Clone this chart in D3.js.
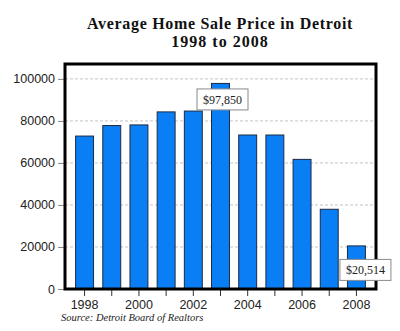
<!DOCTYPE html>
<html>
<head>
<meta charset="utf-8">
<script src="https://cdn.jsdelivr.net/npm/d3@7"></script>
<style>
  html, body { margin: 0; padding: 0; background: #fff; }
  svg { display: block; }
</style>
</head>
<body>
<svg id="chart" width="400" height="331"></svg>
<script>
// Average home sale price in Detroit, 1998-2008
const years = [1998, 1999, 2000, 2001, 2002, 2003, 2004, 2005, 2006, 2007, 2008];
const prices = [72800, 77800, 78100, 84300, 84700, 97850, 73300, 73300, 61700, 37950, 20514];
const yTicks = [0, 20000, 40000, 60000, 80000, 100000];
const xLabelYears = [1998, 2000, 2002, 2004, 2006, 2008];
const calloutYears = [2003, 2008];
const titleLines = ["Average Home Sale Price in Detroit", "1998 to 2008"];
const sourceNote = "Source: Detroit Board of Realtors";

const svg = d3.select("#chart");
const frame = { left: 65, right: 376, top: 64, bottom: 289 };
const yMax = 107100;

const x = d3.scaleBand()
  .domain(years)
  .range([frame.left, frame.right])
  .paddingInner(0.34)
  .paddingOuter(0.39);

const y = d3.scaleLinear()
  .domain([0, yMax])
  .range([frame.bottom, frame.top]);

// Title, two centred lines
svg.append("g")
  .selectAll("text")
  .data(titleLines)
  .join("text")
  .attr("x", 220)
  .attr("y", (d, i) => 29 + i * 18)
  .attr("text-anchor", "middle")
  .attr("font-family", "'Liberation Serif', 'DejaVu Serif', serif")
  .attr("font-weight", "bold")
  .attr("font-size", "16px")
  .attr("letter-spacing", (d, i) => i === 0 ? "0.7px" : "1px")
  .attr("fill", "#111")
  .text(d => d);

// Dashed gridlines
svg.append("g")
  .selectAll("line")
  .data(yTicks.filter(t => t > 0))
  .join("line")
  .attr("x1", frame.left)
  .attr("x2", frame.right)
  .attr("y1", d => y(d))
  .attr("y2", d => y(d))
  .attr("stroke", "#c4c4c4")
  .attr("stroke-width", 1)
  .attr("stroke-dasharray", "3,2");

// Bars
svg.append("g")
  .selectAll("rect")
  .data(years.map((yr, i) => ({ yr, v: prices[i] })))
  .join("rect")
  .attr("x", d => x(d.yr))
  .attr("y", d => y(d.v))
  .attr("width", x.bandwidth())
  .attr("height", d => y(0) - y(d.v))
  .attr("fill", "#0a7ff5")
  .attr("stroke", "#1c2a44")
  .attr("stroke-width", 1);

// Y axis
const yAxis = d3.axisLeft(y)
  .tickValues(yTicks)
  .tickSize(6)
  .tickPadding(3)
  .tickFormat(d3.format("d"));
const gy = svg.append("g")
  .attr("transform", `translate(${frame.left - 1},0)`)
  .call(yAxis);
gy.select(".domain").remove();
gy.selectAll(".tick line").attr("stroke", "#888");
gy.selectAll(".tick text")
  .attr("font-family", "'Liberation Sans', Arial, sans-serif")
  .attr("font-size", "12.5px")
  .attr("fill", "#222");

// X axis: a tick for every year, labels on even years
const xAxis = d3.axisBottom(x)
  .tickSize(6)
  .tickPadding(4)
  .tickFormat(d => xLabelYears.includes(d) ? String(d) : "");
const gx = svg.append("g")
  .attr("transform", `translate(0,${frame.bottom + 1})`)
  .call(xAxis);
gx.select(".domain").remove();
gx.selectAll(".tick line").attr("stroke", "#333");
gx.selectAll(".tick text")
  .attr("font-family", "'Liberation Sans', Arial, sans-serif")
  .attr("font-size", "12.5px")
  .attr("fill", "#222");

// Plot frame
svg.append("rect")
  .attr("x", frame.left)
  .attr("y", frame.top)
  .attr("width", frame.right - frame.left)
  .attr("height", frame.bottom - frame.top)
  .attr("fill", "none")
  .attr("stroke", "#000")
  .attr("stroke-width", 3);

// Value callouts
const fmt = d3.format("$,");
const calloutOffset = { 2003: { dx: 2, dy: 16 }, 2008: { dx: 9, dy: 24 } };
const callouts = svg.append("g")
  .selectAll("g")
  .data(calloutYears.map(yr => ({ yr, v: prices[years.indexOf(yr)] })))
  .join("g")
  .attr("transform", d => {
    const o = calloutOffset[d.yr];
    return `translate(${x(d.yr) + x.bandwidth() / 2 + o.dx},${y(d.v) + o.dy})`;
  });
callouts.append("rect")
  .attr("x", -25.5)
  .attr("y", -10.5)
  .attr("width", 51)
  .attr("height", 21)
  .attr("fill", "#fff")
  .attr("stroke", "#8a8a8a")
  .attr("stroke-width", 1);
callouts.append("text")
  .attr("text-anchor", "middle")
  .attr("dy", "0.35em")
  .attr("font-family", "'Liberation Serif', 'DejaVu Serif', serif")
  .attr("font-size", "12px")
  .attr("fill", "#222")
  .text(d => fmt(d.v));

// Source note
svg.append("text")
  .attr("x", 61)
  .attr("y", 321)
  .attr("font-family", "'Liberation Serif', 'DejaVu Serif', serif")
  .attr("font-style", "italic")
  .attr("font-size", "10.5px")
  .attr("fill", "#222")
  .text(sourceNote);
</script>
</body>
</html>
